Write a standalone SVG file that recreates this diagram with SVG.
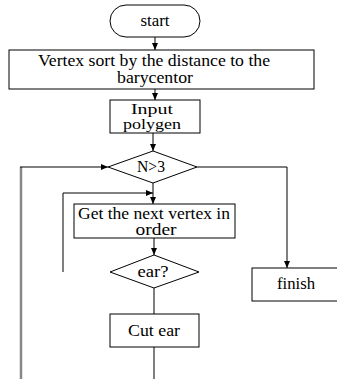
<svg xmlns="http://www.w3.org/2000/svg" width="337" height="379" viewBox="0 0 337 379">
<defs>
<marker id="ah" markerWidth="8" markerHeight="8" refX="7" refY="4" orient="auto" markerUnits="userSpaceOnUse">
<path d="M0,1 L7,4 L0,7 Z" fill="#000"/>
</marker>
<style>
.box{fill:#fff;stroke:#000;stroke-width:1}
.t{font-family:"Liberation Serif","Times New Roman","DejaVu Serif",serif;font-size:16px;fill:#000;text-anchor:middle}
.s{font-size:15px}
.c{fill:none;stroke:#000;stroke-width:1}
.a{marker-end:url(#ah)}
.g{fill:none;stroke:#888;stroke-width:2.5}
</style>
</defs>
<rect width="337" height="379" fill="#fff"/>
<g id="connectors">
<line class="c a" x1="155" y1="37" x2="155" y2="50"/>
<line class="c a" x1="155" y1="89" x2="155" y2="100"/>
<line class="c a" x1="153" y1="133" x2="153" y2="151"/>
<line class="c a" x1="153" y1="183" x2="153" y2="204"/>
<polyline class="c a" points="63,272 63,193 153,193"/>
<line class="c a" x1="154" y1="238" x2="154" y2="255"/>
<line class="c" x1="154" y1="288" x2="154" y2="314"/>
<line class="c" x1="154" y1="347" x2="154" y2="379"/>
<line class="g" x1="21" y1="167" x2="21" y2="379"/>
<line class="c a" x1="20" y1="167" x2="108" y2="167"/>
<polyline class="c a" points="197,167 287,167 287,268"/>
</g>
<g id="start">
<rect class="box" x="110" y="5" width="90" height="32" rx="16"/>
<text class="t" x="155" y="26" textLength="29" lengthAdjust="spacingAndGlyphs">start</text>
</g>
<g id="sort">
<rect class="box" x="9" y="50" width="305" height="39"/>
<text class="t" x="154" y="66" textLength="232" lengthAdjust="spacingAndGlyphs">Vertex sort by the distance to the</text>
<text class="t" x="155" y="83" textLength="76" lengthAdjust="spacingAndGlyphs">barycentor</text>
</g>
<g id="input">
<rect class="box" x="110" y="100" width="90" height="33"/>
<text class="t s" x="152" y="114" textLength="42" lengthAdjust="spacingAndGlyphs">Input</text>
<text class="t s" x="152" y="129" textLength="58" lengthAdjust="spacingAndGlyphs">polygen</text>
</g>
<g id="n3">
<polygon class="box" points="153,151 197,167 153,183 108,167"/>
<text class="t" x="151" y="172" textLength="28" lengthAdjust="spacingAndGlyphs">N&gt;3</text>
</g>
<g id="next">
<rect class="box" x="74" y="204" width="161" height="34"/>
<text class="t" x="154" y="219" textLength="152" lengthAdjust="spacingAndGlyphs">Get the next vertex in</text>
<text class="t" x="156" y="235" textLength="41" lengthAdjust="spacingAndGlyphs">order</text>
</g>
<g id="ear">
<polygon class="box" points="154,255 199,272 154,288 110,272"/>
<text class="t" x="153" y="277" textLength="31" lengthAdjust="spacingAndGlyphs">ear?</text>
</g>
<g id="cut">
<rect class="box" x="110" y="314" width="89" height="33"/>
<text class="t" x="154" y="336" textLength="52" lengthAdjust="spacingAndGlyphs">Cut ear</text>
</g>
<g id="finish">
<rect class="box" x="252" y="268" width="90" height="33"/>
<text class="t" x="296" y="289" textLength="38" lengthAdjust="spacingAndGlyphs">finish</text>
</g>
</svg>
